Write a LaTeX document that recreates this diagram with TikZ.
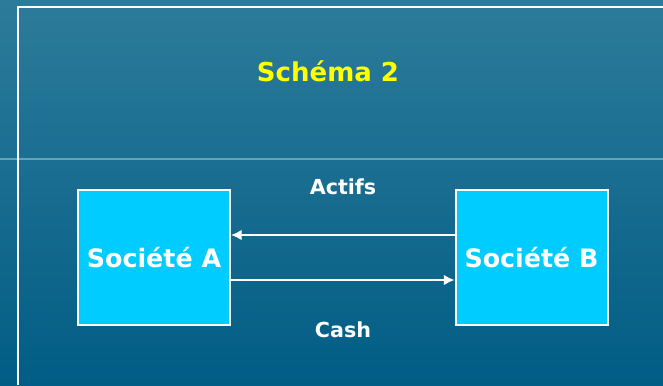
\documentclass[tikz,border=0pt]{standalone}
\usepackage{fontspec}
\setmainfont{DejaVu Sans}
\usetikzlibrary{arrows.meta}
\definecolor{bgtop}{HTML}{2D7B9A}
\definecolor{bgbot}{HTML}{015D85}
\definecolor{boxfill}{HTML}{00CCFF}
\definecolor{ttl}{HTML}{FFFF00}
\begin{document}
\begin{tikzpicture}[x=0.75pt,y=-0.75pt,
  company/.style={draw=white,line width=1.5pt,fill=boxfill,minimum width=114pt,minimum height=101pt,inner sep=0pt,text=white,font=\bfseries\fontsize{19}{22}\selectfont},
  lbl/.style={text=white,font=\bfseries\fontsize{15.5}{18}\selectfont},
  flow/.style={draw=white,line width=1.5pt,-{Latex[length=8pt,width=8pt]}}]
\useasboundingbox (0,0) rectangle (663,385);
\shade[top color=bgtop,bottom color=bgbot] (0,0) rectangle (663,385);
\draw[white,opacity=0.35,line width=0.8pt] (0,159) -- (663,159);
\draw[white,line width=2pt] (18,385) -- (18,7) -- (663,7);
\node[text=ttl,font=\bfseries\fontsize{19.5}{23}\selectfont] (title) at (328,71) {Schéma 2};
\node[company] (A) at (154,257.5) {Société A};
\node[company] (B) at (531.5,257.5) {Société B};
\node[lbl] (actifs) at (343,187) {Actifs};
\node[lbl] (cash) at (343,330) {Cash};
\draw[flow] (B.west |- 0,235) -- (A.east |- 0,235);
\draw[flow] (A.east |- 0,280) -- (B.west |- 0,280);
\end{tikzpicture}
\end{document}
